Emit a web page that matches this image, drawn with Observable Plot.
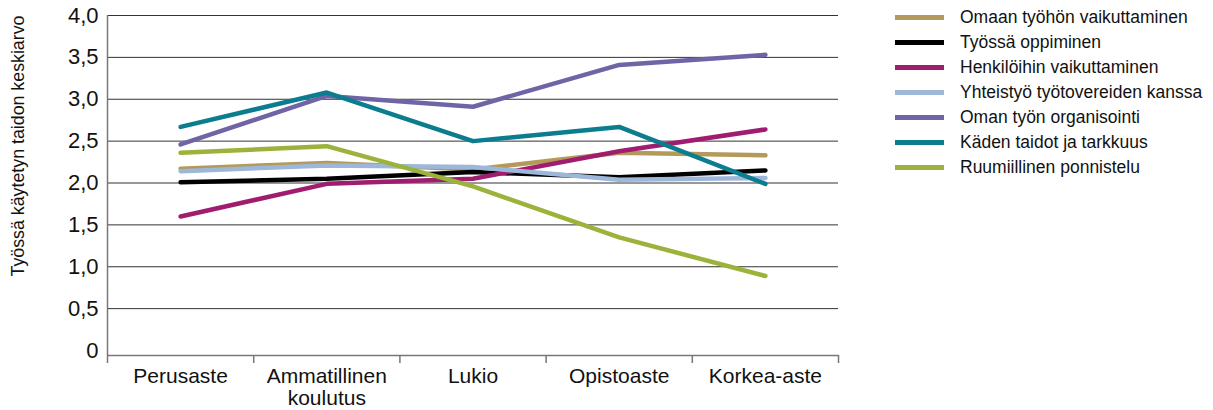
<!DOCTYPE html>
<html>
<head>
<meta charset="utf-8">
<script src="https://cdn.jsdelivr.net/npm/d3@7"></script>
<script src="https://cdn.jsdelivr.net/npm/@observablehq/plot@0.6"></script>
<style>
  html, body { margin: 0; padding: 0; background: #fff; }
  #wrap { position: relative; width: 1213px; height: 410px; font-family: "Liberation Sans", Arial, sans-serif; color: #111; }
  #ytitle { position: absolute; left: 18px; top: 146px; transform: translate(-50%, -50%) rotate(-90deg); white-space: nowrap; font-size: 17.8px; }
  #legend { position: absolute; left: 895px; top: 5px; }
  .row { display: flex; align-items: center; height: 25px; font-size: 17.5px; white-space: nowrap; }
  .sw { width: 49px; height: 5px; margin-right: 16px; }
</style>
</head>
<body>
<div id="wrap">
  <div id="ytitle"></div>
  <div id="legend"></div>
</div>
<script>
// ---- data ----
const levels = ["Perusaste", "Ammatillinen\nkoulutus", "Lukio", "Opistoaste", "Korkea-aste"];
const seriesNames = [
  "Omaan työhön vaikuttaminen",
  "Työssä oppiminen",
  "Henkilöihin vaikuttaminen",
  "Yhteistyö työtovereiden kanssa",
  "Oman työn organisointi",
  "Käden taidot ja tarkkuus",
  "Ruumiillinen ponnistelu"
];
const seriesColors = ["#b39a5b", "#000000", "#a01c6e", "#9db7da", "#7064a6", "#0b7d8f", "#9cb33b"];
const omaanTyohon     = [2.17, 2.24, 2.16, 2.36, 2.33];
const tyossaOppiminen = [2.01, 2.05, 2.13, 2.07, 2.15];
const henkiloihin     = [1.60, 1.99, 2.05, 2.38, 2.64];
const yhteistyo       = [2.14, 2.21, 2.19, 2.04, 2.06];
const omanTyonOrg     = [2.46, 3.04, 2.91, 3.41, 3.53];
const kadenTaidot     = [2.67, 3.08, 2.50, 2.67, 1.99];
const ruumiillinen    = [2.36, 2.44, 1.96, 1.35, 0.89];
const yTicks = [0, 0.5, 1, 1.5, 2, 2.5, 3, 3.5, 4];
const yTitle = "Työssä käytetyn taidon keskiarvo";

const seriesValues = [omaanTyohon, tyossaOppiminen, henkiloihin, yhteistyo, omanTyonOrg, kadenTaidot, ruumiillinen];
const rows = seriesNames.flatMap((name, s) => seriesValues[s].map((v, i) => ({series: name, level: i, value: v})));
const boundaries = levels.map((_, i) => i - 0.5).concat(levels.length - 0.5);
const fmt = d => d === 0 ? "0" : d.toFixed(1).replace(".", ",");

const chart = Plot.plot({
  width: 1213,
  height: 410,
  marginLeft: 107,
  marginRight: 375,
  marginTop: 15,
  marginBottom: 60,
  x: {domain: [-0.5, levels.length - 0.5], axis: null},
  y: {domain: [0, 4], axis: null},
  color: {domain: seriesNames, range: seriesColors},
  style: {fontFamily: "'Liberation Sans', Arial, sans-serif", background: "transparent", color: "#111"},
  marks: [
    Plot.ruleY(yTicks.filter(d => d > 0), {stroke: "#333", strokeWidth: 1}),
    Plot.ruleY([0], {dy: 5, stroke: "#777", strokeWidth: 1.5}),
    Plot.ruleX([-0.5], {y1: 0, y2: 4, insetTop: 5, stroke: "#777", strokeWidth: 1.5}),
    Plot.ruleX(boundaries, {y1: 0, y2: 0, insetTop: 5, insetBottom: -13, stroke: "#777", strokeWidth: 1.5}),
    Plot.line(rows, {x: "level", y: "value", z: "series", stroke: "series", strokeWidth: 4.5, strokeLinecap: "round", strokeLinejoin: "round"}),
    Plot.text(yTicks, {x: -0.5, y: d => d, text: fmt, textAnchor: "end", dx: -9, fontSize: 22, fill: "#111"}),
    Plot.text(levels, {x: (d, i) => i, y: 0, text: d => d, lineAnchor: "top", dy: 17, lineHeight: 1.05, fontSize: 21, fill: "#111"})
  ]
});
chart.style.position = "absolute";
chart.style.left = "0";
chart.style.top = "0";
document.getElementById("wrap").appendChild(chart);
document.getElementById("ytitle").textContent = yTitle;

const legend = document.getElementById("legend");
seriesNames.forEach((name, s) => {
  const row = document.createElement("div");
  row.className = "row";
  const sw = document.createElement("div");
  sw.className = "sw";
  sw.style.background = seriesColors[s];
  const label = document.createElement("span");
  label.textContent = name;
  row.appendChild(sw);
  row.appendChild(label);
  legend.appendChild(row);
});
</script>
</body>
</html>
